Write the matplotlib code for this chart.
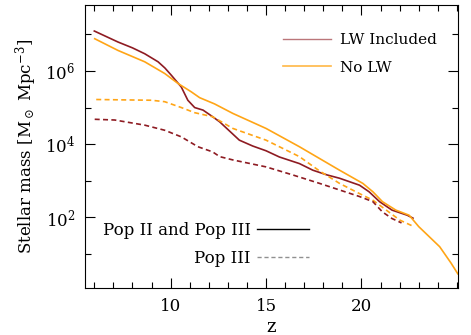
import numpy as np
import matplotlib
matplotlib.use("Agg")
from matplotlib import pyplot as plt
from matplotlib.lines import Line2D
from matplotlib.ticker import FixedLocator, MultipleLocator, NullFormatter

plt.rcParams["font.family"] = ["DejaVu Serif"]
plt.rcParams["mathtext.fontset"] = "dejavuserif"

# redshift and log10(stellar mass density)
z_all_lw = [6.0, 7.24, 8.0, 8.64, 9.34, 9.7, 10.04, 10.56, 10.9, 11.26, 11.7,
            12.2, 12.57, 13.6, 14.3, 15.0, 15.7, 16.75, 17.45, 18.2, 18.85,
            19.9, 20.4, 20.95, 21.6, 22.4, 22.7]
logm_all_lw = [7.09, 6.79, 6.63, 6.47, 6.25, 6.08, 5.88, 5.56, 5.20, 5.00,
               4.93, 4.75, 4.61, 4.11, 3.95, 3.82, 3.65, 3.47, 3.29, 3.16,
               3.07, 2.88, 2.70, 2.43, 2.20, 2.06, 1.98]

z_all_nolw = [6.02, 7.24, 8.64, 9.69, 10.38, 11.08, 11.52, 12.3, 13.26, 15.0,
              16.75, 17.8, 18.85, 20.07, 20.6, 21.1, 21.8, 22.5, 23.0, 24.1,
              24.7, 25.05]
logm_all_nolw = [6.88, 6.56, 6.25, 5.93, 5.66, 5.43, 5.27, 5.10, 4.84, 4.43,
                 3.93, 3.61, 3.29, 2.93, 2.70, 2.43, 2.20, 2.06, 1.75, 1.20,
                 0.75, 0.46]

z_p3_nolw = [6.1, 7.5, 8.99, 9.69, 10.56, 11.26, 12.2, 13.26, 15.0, 16.75,
             17.8, 18.85, 19.9, 20.6, 21.3, 22.0, 22.7]
logm_p3_nolw = [5.22, 5.21, 5.20, 5.16, 5.00, 4.86, 4.75, 4.43, 4.11, 3.66,
                3.27, 2.93, 2.65, 2.47, 2.20, 1.93, 1.76]

z_p3_lw = [6.02, 7.07, 8.64, 9.69, 10.56, 11.43, 12.2, 12.57, 13.26, 15.0,
           16.4, 17.8, 18.85, 19.9, 20.6, 21.1, 21.6, 22.1]
logm_p3_lw = [4.68, 4.66, 4.52, 4.38, 4.20, 3.93, 3.79, 3.66, 3.57, 3.38,
              3.16, 2.93, 2.75, 2.57, 2.43, 2.15, 1.97, 1.85]

DARK = "#8e1b22"
ORANGE = "#ffa516"

fig = plt.figure(figsize=(4.71, 3.35), dpi=100)
ax = fig.add_axes([0.180, 0.140, 0.792, 0.845])

ax.plot(z_all_lw, 10 ** np.array(logm_all_lw), color=DARK, lw=1.2)
ax.plot(z_all_nolw, 10 ** np.array(logm_all_nolw), color=ORANGE, lw=1.2)
ax.plot(z_p3_nolw, 10 ** np.array(logm_p3_nolw), color=ORANGE, lw=1.2,
        dashes=(3, 2))
ax.plot(z_p3_lw, 10 ** np.array(logm_p3_lw), color=DARK, lw=1.2,
        dashes=(3, 2))

ax.set_yscale("log")
ax.set_xlim(5.5, 25.05)
ax.set_ylim(10 ** 0.07, 10 ** 7.8)

ax.xaxis.set_major_locator(FixedLocator([10, 15, 20]))
ax.xaxis.set_minor_locator(MultipleLocator(1))
ax.yaxis.set_major_locator(FixedLocator([1e2, 1e4, 1e6]))
ax.yaxis.set_minor_locator(FixedLocator([1e1, 1e3, 1e5, 1e7]))
ax.yaxis.set_minor_formatter(NullFormatter())
ax.set_yticklabels([r"10$^2$", r"10$^4$", r"10$^6$"])

ax.tick_params(which="both", direction="in", top=True, right=True,
               labelsize=12, width=0.8)
ax.tick_params(which="major", length=7, pad=7)
ax.tick_params(which="minor", length=4)
for s in ax.spines.values():
    s.set_linewidth(0.8)

ax.set_xlabel("z", fontsize=13, labelpad=2)
ax.set_ylabel(r"Stellar mass [M$_\odot$ Mpc$^{-3}$]", fontsize=12, labelpad=4)

# legends
top_handles = [Line2D([], [], color=DARK, lw=1, alpha=0.6),
               Line2D([], [], color=ORANGE, lw=1.2, alpha=0.8)]
leg1 = ax.legend(top_handles, ["LW Included", "No LW"], loc="upper right",
                 bbox_to_anchor=(0.98, 0.95), frameon=False, fontsize=11,
                 handlelength=3.1, handletextpad=0.6, labelspacing=0.9)
ax.add_artist(leg1)

bot_handles = [Line2D([], [], color="black", lw=1),
               Line2D([], [], color="#909090", lw=1, dashes=(3, 2))]
ax.legend(bot_handles, ["Pop II and Pop III", "Pop III"], loc="lower left",
          bbox_to_anchor=(0.008, 0.022), frameon=False, fontsize=12,
          markerfirst=False, handlelength=3.1, handletextpad=0.4,
          labelspacing=0.65)

fig.savefig("out.png", dpi=100)
